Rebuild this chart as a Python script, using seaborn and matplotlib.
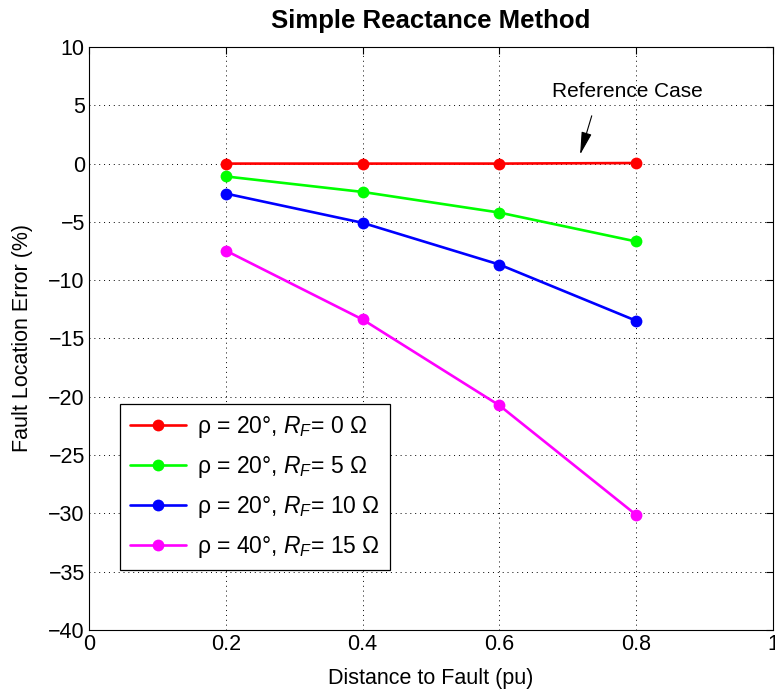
import matplotlib
matplotlib.use("Agg")
import matplotlib.pyplot as plt
import seaborn as sns
import pandas as pd

# Fault distance (pu) and fault location error (%) for each case
distance = [0.2, 0.4, 0.6, 0.8]
err_rf0 = [0.0, 0.0, 0.0, 0.05]
err_rf5 = [-1.1, -2.43, -4.2, -6.68]
err_rf10 = [-2.57, -5.08, -8.66, -13.48]
err_rf15 = [-7.46, -13.37, -20.74, -30.13]

labels = [
    r"ρ = 20°, $R_F$= 0 Ω",
    r"ρ = 20°, $R_F$= 5 Ω",
    r"ρ = 20°, $R_F$= 10 Ω",
    r"ρ = 40°, $R_F$= 15 Ω",
]
colors = ["#ff0000", "#00ff00", "#0000ff", "#ff00ff"]

sns.set_style("white")
plt.rcParams["font.family"] = ["Liberation Sans", "DejaVu Sans"]
plt.rcParams["mathtext.fontset"] = "custom"
plt.rcParams["mathtext.rm"] = "Liberation Sans"
plt.rcParams["mathtext.it"] = "Liberation Sans:italic"
for key in ["text.color", "axes.labelcolor", "xtick.color", "ytick.color"]:
    plt.rcParams[key] = "black"

frames = []
for lab, vals in zip(labels, [err_rf0, err_rf5, err_rf10, err_rf15]):
    frames.append(pd.DataFrame({"Distance": distance, "Error": vals, "Case": lab}))
df = pd.concat(frames, ignore_index=True)

fig = plt.figure(figsize=(7.75, 6.92), dpi=100)
ax = fig.add_axes([89 / 775, 1 - 630 / 692, (773 - 89) / 775, (630 - 47) / 692])

sns.lineplot(
    data=df, x="Distance", y="Error", hue="Case", hue_order=labels,
    palette=colors, marker="o", markersize=8.5, markeredgewidth=0,
    linewidth=1.9, ax=ax, legend=True,
)

ax.set_xlim(0, 1)
ax.set_ylim(-40, 10)
ax.set_xticks([0, 0.2, 0.4, 0.6, 0.8, 1])
ax.set_xticklabels(["0", "0.2", "0.4", "0.6", "0.8", "1"])
ax.set_yticks(range(-40, 11, 5))
ax.tick_params(direction="in", length=5, width=0.8, top=True, right=True,
               labelsize=15.5, pad=3)
ax.grid(True, linestyle=(0, (1, 4)), color="black", linewidth=0.7)
for s in ax.spines.values():
    s.set_color("black")
    s.set_linewidth(0.8)

ax.set_xlabel("Distance to Fault (pu)", fontsize=15.5, labelpad=9)
ax.set_ylabel("Fault Location Error (%)", fontsize=15.5, labelpad=11)
ax.set_title("Simple Reactance Method", fontsize=18.5, fontweight="bold", pad=14)

# Label and pointer for the zero-resistance case
ax.text(0.787, 6.2, "Reference Case", ha="center", va="center", fontsize=15)
ax.annotate(
    "", xy=(0.718, 0.77), xytext=(0.735, 4.1),
    arrowprops=dict(arrowstyle="-|>,head_length=0.7,head_width=0.16",
                    color="black", lw=0.8, mutation_scale=20,
                    shrinkA=0, shrinkB=0),
)

leg = ax.legend(loc="lower left", bbox_to_anchor=(0.045, 0.103), fontsize=16.5,
                frameon=True, fancybox=False, framealpha=1, edgecolor="black",
                handlelength=2.45, handletextpad=0.45, labelspacing=0.6,
                borderpad=0.45, borderaxespad=0)
leg.get_frame().set_linewidth(0.9)

fig.savefig("out.png", dpi=100)
